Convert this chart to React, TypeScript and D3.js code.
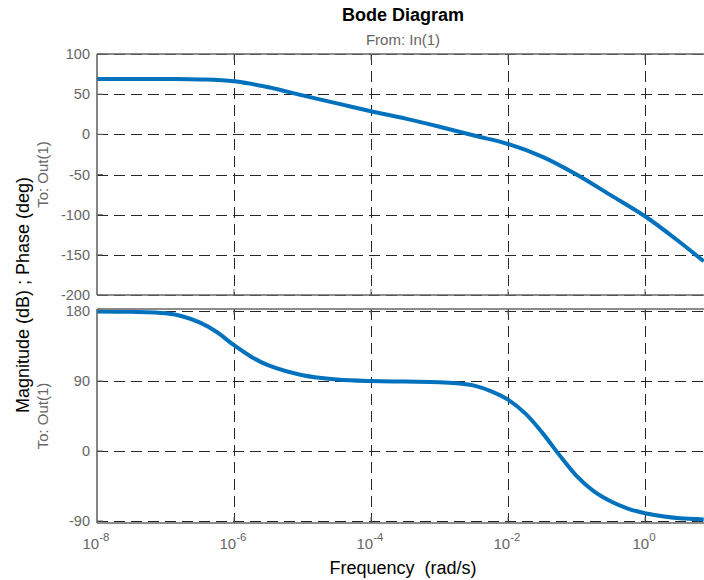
import React from 'react'
import * as d3 from 'd3'

// magnitude (rad/s -> dB)
const magFreq = [1e-8, 3.2e-8, 1e-7, 3.2e-7, 1e-6, 3.2e-6, 1e-5, 3.2e-5, 1e-4, 3.2e-4, 1e-3, 3.2e-3, 1e-2, 3.2e-2, 1e-1, 3.2e-1, 1, 3.2, 7.2]
const magnitude = [68.9, 68.9, 68.8, 68.3, 66, 58.6, 48.5, 38.5, 28.7, 19.5, 9.5, -1.5, -12, -28, -50, -76, -102, -134, -158]

// phase (deg)
const phaseFreq = [1e-8, 3.2e-8, 1e-7, 1.8e-7, 3.2e-7, 5.6e-7, 1e-6, 1.8e-6, 3.2e-6, 1e-5, 3.2e-5, 1e-4, 3.2e-4, 1e-3, 1.8e-3, 3.2e-3, 5.6e-3, 1e-2, 1.8e-2, 3.2e-2, 5.6e-2, 1e-1, 1.8e-1, 3.2e-1, 5.6e-1, 1, 1.8, 3.2, 7.2]
const phase = [179.5, 179, 177, 173, 165, 153, 136, 121, 110, 97.5, 92, 90, 89.3, 88.5, 87, 84, 77, 66, 48, 23, -5, -32, -52, -65, -74, -80, -84, -86.5, -88]

const magTicks = [100, 50, 0, -50, -100, -150, -200]
const phaseTicks = [180, 90, 0, -90]
const freqTicks = [1e-8, 1e-6, 1e-4, 1e-2, 1e0]
const freqExp = ['-8', '-6', '-4', '-2', '0']

const W = 704
const H = 580
const left = 97
const right = W
const font = '"Liberation Sans", Arial, sans-serif'
const axisColor = '#666'
const gridColor = '#262626'
const blue = '#0072BD'

const x = d3.scaleLog().domain([1e-8, 1]).range([left, 645])

function Panel({ top, bottom, domain, ticks, freq, values, label }) {
  const y = d3.scaleLinear().domain(domain).range([bottom, top])
  const line = d3.line()
    .x((d, i) => x(freq[i]))
    .y(d => y(d))
    .curve(d3.curveCatmullRom.alpha(0.5))
  return (
    <g>
      {ticks.map(t => (
        <g key={t}>
          <line x1={left} x2={right} y1={Math.round(y(t)) + 0.5} y2={Math.round(y(t)) + 0.5}
            stroke={gridColor} strokeDasharray="11,6" />
          <line x1={left} x2={left + 6} y1={y(t)} y2={y(t)} stroke={axisColor} />
          <text x={left - 7} y={y(t)} dy="0.35em" textAnchor="end" fontSize={14.5} fill={axisColor}>{t}</text>
        </g>
      ))}
      {freqTicks.slice(1).map(f => (
        <g key={f}>
          <line x1={Math.round(x(f)) + 0.5} x2={Math.round(x(f)) + 0.5} y1={top} y2={bottom}
            stroke={gridColor} strokeDasharray="11,6" />
          <line x1={x(f)} x2={x(f)} y1={top} y2={top + 6} stroke={axisColor} />
          <line x1={x(f)} x2={x(f)} y1={bottom} y2={bottom - 6} stroke={axisColor} />
        </g>
      ))}
      <path d={line(values)} fill="none" stroke={blue} strokeWidth={4} />
      <line x1={left} x2={right} y1={top} y2={top} stroke={axisColor} strokeWidth={1.6} />
      <line x1={left} x2={right} y1={bottom} y2={bottom} stroke={axisColor} strokeWidth={1.6} />
      <line x1={left} x2={left} y1={top} y2={bottom} stroke={axisColor} strokeWidth={1.6} />
      <text transform={`translate(48, ${(top + bottom) / 2}) rotate(-90)`} textAnchor="middle"
        fontSize={15} fill={axisColor}>{label}</text>
    </g>
  )
}

export default function App() {
  return (
    <svg width={W} height={H} viewBox={`0 0 ${W} ${H}`}
      style={{ position: 'absolute', left: 0, top: 0, background: '#fff', fontFamily: font }}>
      <defs>
        <clipPath id="plot"><rect x={0} y={0} width={W} height={H} /></clipPath>
      </defs>
      <text x={403} y={21} textAnchor="middle" fontSize={18} fontWeight="bold" fill="#000">Bode Diagram</text>
      <text x={403} y={45} textAnchor="middle" fontSize={15} fill={axisColor}>From: In(1)</text>
      <g clipPath="url(#plot)">
        <Panel top={54} bottom={295} domain={[-200, 100]} ticks={magTicks}
          freq={magFreq} values={magnitude} label="To: Out(1)" />
        <Panel top={309} bottom={523} domain={[-92.6, 182.6]} ticks={phaseTicks}
          freq={phaseFreq} values={phase} label="To: Out(1)" />
      </g>
      {freqTicks.map((f, i) => (
        <text key={f} x={x(f) - 1} y={549} textAnchor="middle" fill={axisColor} fontSize={15}>
          10<tspan dy={-8} fontSize={11.5}>{freqExp[i]}</tspan>
        </text>
      ))}
      <text x={403} y={574} textAnchor="middle" fontSize={18} fill="#000" style={{ whiteSpace: 'pre' }}>
        Frequency  (rad/s)
      </text>
      <text transform="translate(29, 295) rotate(-90)" textAnchor="middle" fontSize={18} fill="#000">
        Magnitude (dB) ; Phase (deg)
      </text>
    </svg>
  )
}
